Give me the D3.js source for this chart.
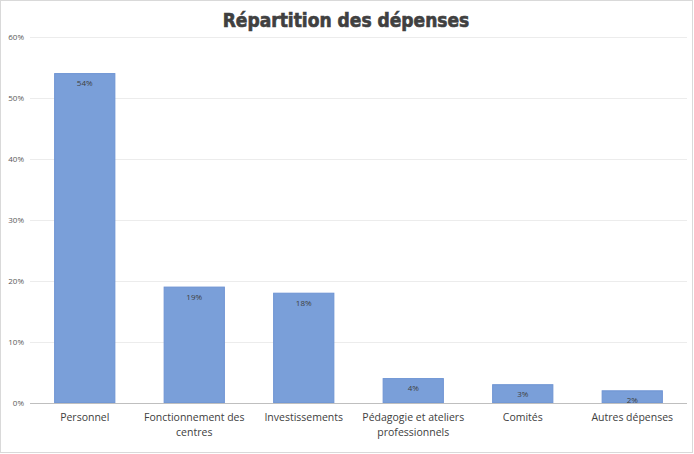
<!DOCTYPE html>
<html><head><meta charset="utf-8">
<script src="https://cdn.jsdelivr.net/npm/d3@7"></script>
<style>body{margin:0;background:#fff}svg{display:block}</style>
</head><body>
<script>
const categories = [["Personnel"],["Fonctionnement des","centres"],["Investissements"],["Pédagogie et ateliers","professionnels"],["Comités"],["Autres dépenses"]];
const values = [54,19,18,4,3,2];
const yTicks = [0,10,20,30,40,50,60];
const title = "Répartition des dépenses";

const W=694,H=454;
const svg=d3.select("body").append("svg").attr("width",W).attr("height",H);
svg.append("rect").attr("x",0.5).attr("y",0.5).attr("width",W-2).attr("height",H-2).attr("fill","#fff").attr("stroke","#d9d9d9");

const pLeft=30,pRight=687,pTop=37,pBottom=403;
const x=d3.scaleBand().domain(d3.range(values.length)).range([pLeft,pRight]).paddingInner(0.45).paddingOuter(0.225);
const y=d3.scaleLinear().domain([0,60]).range([pBottom,pTop]);

// grid
svg.append("g").selectAll("line").data(yTicks.slice(1)).join("line")
 .attr("x1",pLeft).attr("x2",pRight).attr("y1",d=>y(d)+0.5).attr("y2",d=>y(d)+0.5)
 .attr("stroke","#ececec").attr("stroke-width",1);

// y labels
const yAxis=d3.axisLeft(y).tickValues(yTicks).tickFormat(d=>d+"%").tickSize(0).tickPadding(6);
const ga=svg.append("g").attr("transform",`translate(${pLeft},0)`).call(yAxis);
ga.select(".domain").remove();
ga.selectAll("text").attr("font-family","Open Sans, Liberation Sans, sans-serif").attr("font-size",8).attr("fill","#595959").attr("dy","0.32em");

// bars
svg.append("g").selectAll("rect").data(values).join("rect")
 .attr("x",(d,i)=>x(i)).attr("width",x.bandwidth())
 .attr("y",d=>y(d)).attr("height",d=>pBottom-y(d))
 .attr("fill","#7a9fd9").attr("stroke","#6d93d3").attr("stroke-width",1);

// data labels
svg.append("g").selectAll("text").data(values).join("text")
 .attr("x",(d,i)=>x(i)+x.bandwidth()/2).attr("y",d=>y(d)+12.5)
 .attr("text-anchor","middle").attr("font-family","Open Sans, Liberation Sans, sans-serif")
 .attr("font-size",8).attr("fill","#404040").text(d=>d+"%");

// x axis line
svg.append("line").attr("x1",pLeft).attr("x2",pRight).attr("y1",pBottom+0.5).attr("y2",pBottom+0.5).attr("stroke","#bfbfbf").attr("stroke-width",1);

// category labels
const cg=svg.append("g").selectAll("text").data(categories).join("text")
 .attr("x",(d,i)=>x(i)+x.bandwidth()/2).attr("y",pBottom+18)
 .attr("text-anchor","middle").attr("font-family","Open Sans, Liberation Sans, sans-serif")
 .attr("font-size",10.5).attr("fill","#404040");
cg.selectAll("tspan").data(d=>d).join("tspan")
 .attr("x",function(){return this.parentNode.getAttribute("x");})
 .attr("dy",(d,i)=>i?15:0).text(d=>d);

// title
svg.append("text").attr("x",346).attr("y",27).attr("text-anchor","middle")
 .attr("font-family","DejaVu Sans Condensed, sans-serif").attr("font-weight","bold")
 .attr("font-size",19).attr("fill","#404040").attr("stroke","#404040").attr("stroke-width",0.6).text(title);
</script>
</body></html>
